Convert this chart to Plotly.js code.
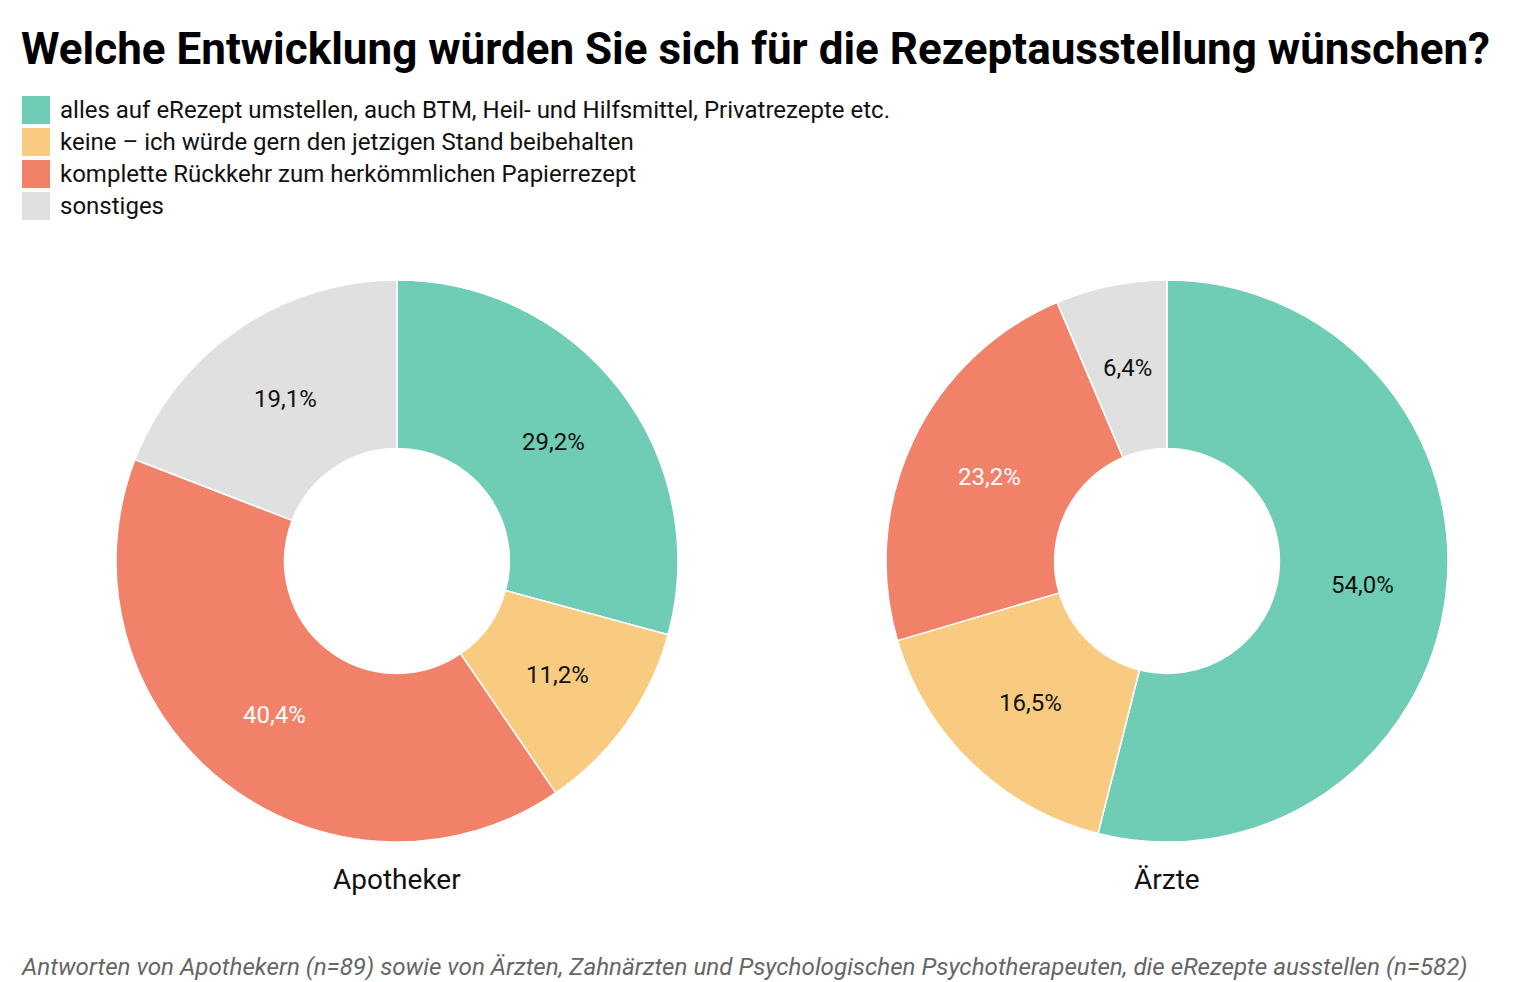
<!DOCTYPE html>
<html>
<head>
<meta charset="utf-8">
<script src="https://cdn.plot.ly/plotly-3.0.1.min.js"></script>
<style>
html,body{margin:0;padding:0;background:#fff;}
#chart{width:1526px;height:982px;}
</style>
</head>
<body>
<div id="chart"></div>
<script>
const categories = [
  "alles auf eRezept umstellen, auch BTM, Heil- und Hilfsmittel, Privatrezepte etc.",
  "keine – ich würde gern den jetzigen Stand beibehalten",
  "komplette Rückkehr zum herkömmlichen Papierrezept",
  "sonstiges"
];
const colors = ["#6fcdb5", "#f8cb80", "#f2816a", "#e0e0e0"];
const labelColors = ["#111111", "#111111", "#ffffff", "#111111"];
const groups = ["Apotheker", "Ärzte"];
const apothekerValues = [29.2, 11.2, 40.4, 19.1];
const aerzteValues = [54.0, 16.5, 23.2, 6.4];
const title = "Welche Entwicklung würden Sie sich für die Rezeptausstellung wünschen?";
const footnote = "Antworten von Apothekern (n=89) sowie von Ärzten, Zahnärzten und Psychologischen Psychotherapeuten, die eRezepte ausstellen (n=582)";

const W = 1526, H = 982;
const HOLE = 0.4;
const fmt = v => v.toFixed(1).replace('.', ',') + '%';

const yDom = [0.1425, 0.7149];
const domains = [[0.0760, 0.4443], [0.5806, 0.9489]];
const series = [apothekerValues, aerzteValues];

const traces = series.map((vals, i) => ({
  type: 'pie',
  values: vals,
  labels: categories,
  textinfo: 'none',
  hole: HOLE,
  sort: false,
  direction: 'clockwise',
  rotation: 0,
  marker: {colors: colors, line: {color: '#ffffff', width: 1.5}},
  domain: {x: domains[i], y: yDom},
  showlegend: false,
  hoverinfo: 'label+percent'
}));

const shapes = [];
const annotations = [];

// slice labels at mid-radius / mid-angle of each slice
series.forEach((vals, i) => {
  const total = vals.reduce((a, b) => a + b, 0);
  const cx = (domains[i][0] + domains[i][1]) / 2 * W;
  const cy = (1 - (yDom[0] + yDom[1]) / 2) * H;
  const R = Math.min((domains[i][1] - domains[i][0]) * W, (yDom[1] - yDom[0]) * H) / 2;
  const rm = R * (1 + HOLE) / 2;
  let cum = 0;
  vals.forEach((v, k) => {
    const a = (cum + v / 2) / total * 2 * Math.PI;
    cum += v;
    const px = cx + rm * Math.sin(a);
    const py = cy - rm * Math.cos(a);
    annotations.push({
      xref: 'paper', yref: 'paper', x: px / W, y: 1 - py / H,
      xanchor: 'center', yanchor: 'middle', showarrow: false,
      text: fmt(v), font: {family: 'Roboto', size: 24, color: labelColors[k]}
    });
  });
});

categories.forEach((c, i) => {
  const yc = 110 + i * 32;
  shapes.push({
    type: 'rect', xref: 'paper', yref: 'paper',
    x0: 22 / W, x1: 50 / W, y0: 1 - (yc + 14) / H, y1: 1 - (yc - 14) / H,
    fillcolor: colors[i], line: {width: 0}
  });
  annotations.push({
    xref: 'paper', yref: 'paper', x: 58 / W, y: 1 - yc / H,
    xanchor: 'left', yanchor: 'middle', showarrow: false,
    text: c, font: {family: 'Roboto', size: 24, color: '#111111'}
  });
});
groups.forEach((g, i) => {
  annotations.push({
    xref: 'paper', yref: 'paper', x: (domains[i][0] + domains[i][1]) / 2, y: 1 - 879 / H,
    xanchor: 'center', yanchor: 'middle', showarrow: false,
    text: g, font: {family: 'Roboto', size: 28, color: '#111111'}
  });
});
annotations.push({
  xref: 'paper', yref: 'paper', x: 19 / W, y: 1 - 49 / H,
  xanchor: 'left', yanchor: 'middle', showarrow: false,
  text: '<b>' + title + '</b>', font: {family: 'Roboto', size: 44, color: '#000000'}
});
annotations.push({
  xref: 'paper', yref: 'paper', x: 19 / W, y: 1 - 967 / H,
  xanchor: 'left', yanchor: 'middle', showarrow: false,
  text: '<i>' + footnote + '</i>', font: {family: 'Roboto', size: 24.2, color: '#666666'}
});

const layout = {
  width: W, height: H,
  margin: {l: 0, r: 0, t: 0, b: 0},
  paper_bgcolor: '#ffffff',
  showlegend: false,
  shapes: shapes,
  annotations: annotations
};

Plotly.newPlot('chart', traces, layout, {displayModeBar: false, staticPlot: true});
</script>
</body>
</html>
